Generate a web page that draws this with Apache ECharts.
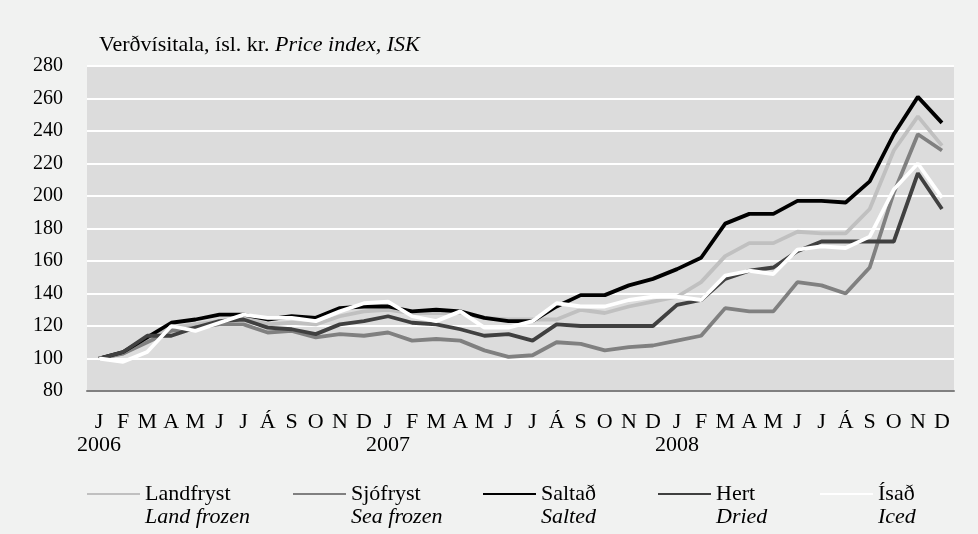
<!DOCTYPE html>
<html>
<head>
<meta charset="utf-8">
<title>Verðvísitala</title>
<script src="https://cdn.jsdelivr.net/npm/echarts@6/dist/echarts.min.js"></script>
<style>
    html, body { margin: 0; padding: 0; background: #f1f2f1; }
    #price-chart-pane { width: 978px; height: 534px; }
</style>
</head>
<body>
<div id="price-chart-pane"></div>
<script>
// months / years on the x axis
var months = ['J', 'F', 'M', 'A', 'M', 'J', 'J', 'Á', 'S', 'O', 'N', 'D'];
var years = ['2006', '2007', '2008'];

// y axis ticks
var yTicks = [80, 100, 120, 140, 160, 180, 200, 220, 240, 260, 280];

// series names (is / en)
var seriesNames = ['Landfryst', 'Sjófryst', 'Saltað', 'Hert', 'Ísað'];
var seriesNamesEn = ['Land frozen', 'Sea frozen', 'Salted', 'Dried', 'Iced'];

// monthly price index, jan 2006 = 100
var landfryst = [100, 103, 111, 119, 121, 123, 125, 121, 122, 121, 126, 129,
                 130, 128, 128, 128, 125, 124, 124, 124, 130, 128, 132, 135,
                 138, 147, 163, 171, 171, 178, 177, 177, 192, 228, 249, 231];
var sjofryst  = [100, 103, 110, 117, 119, 121, 121, 116, 117, 113, 115, 114,
                 116, 111, 112, 111, 105, 101, 102, 110, 109, 105, 107, 108,
                 111, 114, 131, 129, 129, 147, 145, 140, 156, 202, 238, 228];
var saltad    = [100, 104, 113, 122, 124, 127, 127, 124, 126, 125, 131, 132,
                 132, 129, 130, 129, 125, 123, 123, 132, 139, 139, 145, 149,
                 155, 162, 183, 189, 189, 197, 197, 196, 209, 238, 261, 245];
var hert      = [100, 104, 114, 114, 119, 123, 124, 119, 118, 115, 121, 123,
                 126, 122, 121, 118, 114, 115, 111, 121, 120, 120, 120, 120,
                 133, 136, 149, 154, 156, 166, 172, 172, 172, 172, 214, 192];
var isad      = [100, 98, 104, 120, 117, 122, 127, 125, 125, 123, 129, 134,
                 135, 126, 123, 129, 119, 119, 123, 134, 132, 132, 136, 138,
                 138, 136, 151, 154, 152, 167, 169, 168, 175, 204, 220, 199];

var seriesData = [landfryst, sjofryst, saltad, hert, isad];
var seriesColors = ['#c0c0c0', '#808080', '#000000', '#404040', '#ffffff'];
var legendLeft = [87, 293, 483, 658, 820];

var fontName = '"Liberation Serif", "DejaVu Serif", serif';

function createPriceChart() {
    var chartDom = document.getElementById('price-chart-pane');
    var chart = echarts.init(chartDom, null, {renderer: 'canvas'});

    // one category per month, label shows month letter and year under january
    var categories = [];
    for (var y = 0; y < years.length; y++) {
        for (var m = 0; m < months.length; m++) {
            categories.push(years[y] + '-' + (m + 1));
        }
    }

    var series = [];
    var legends = [];
    for (var i = 0; i < seriesNames.length; i++) {
        series.push({
            name: seriesNames[i],
            type: 'line',
            data: seriesData[i],
            symbol: 'none',
            lineStyle: { color: seriesColors[i], width: 3.8 },
            itemStyle: { color: seriesColors[i] },
            z: 2 + i
        });
        legends.push({
            data: [seriesNames[i]],
            left: legendLeft[i],
            top: 483,
            padding: 0,
            icon: 'rect',
            itemWidth: 53,
            itemHeight: 2,
            selectedMode: false,
            formatter: (function (idx) {
                return function (name) {
                    return '{a|' + name + '}\n{b|' + seriesNamesEn[idx] + '}';
                };
            })(i),
            textStyle: {
                padding: [23, 0, 0, 0],
                rich: {
                    a: { fontFamily: fontName, fontSize: 22, lineHeight: 23, color: '#000' },
                    b: { fontFamily: fontName, fontSize: 22, lineHeight: 23, color: '#000', fontStyle: 'italic' }
                }
            }
        });
    }

    var option = {
        animation: false,
        backgroundColor: '#f1f2f1',
        title: {
            text: '{a|Verðvísitala, ísl. kr. }{b|Price index, ISK}',
            left: 99,
            top: 34,
            padding: 0,
            textStyle: {
                rich: {
                    a: { fontFamily: fontName, fontSize: 22, fontWeight: 'normal', color: '#000' },
                    b: { fontFamily: fontName, fontSize: 22, fontWeight: 'normal', color: '#000', fontStyle: 'italic' }
                }
            }
        },
        legend: legends,
        grid: {
            left: 87,
            right: 24,
            top: 66,
            bottom: 143,
            show: true,
            backgroundColor: '#dcdcdc',
            borderWidth: 0
        },
        xAxis: {
            type: 'category',
            data: categories,
            boundaryGap: true,
            axisTick: { show: false },
            axisLine: { lineStyle: { color: '#808080', width: 2 } },
            axisLabel: {
                interval: 0,
                margin: 20,
                color: '#000',
                fontFamily: fontName,
                fontSize: 22,
                lineHeight: 23,
                formatter: function (value, index) {
                    var label = months[index % 12];
                    if (index % 12 === 0) {
                        label += '\n' + years[index / 12];
                    }
                    return label;
                }
            }
        },
        yAxis: {
            type: 'value',
            min: yTicks[0],
            max: yTicks[yTicks.length - 1],
            interval: yTicks[1] - yTicks[0],
            axisLine: { show: false },
            axisTick: { show: false },
            splitLine: { lineStyle: { color: '#ffffff', width: 2 } },
            axisLabel: {
                margin: 24,
                padding: [3, 0, 0, 0],
                color: '#000',
                fontFamily: fontName,
                fontSize: 20
            }
        },
        series: series
    };

    chart.setOption(option);
}

createPriceChart();
</script>
</body>
</html>
